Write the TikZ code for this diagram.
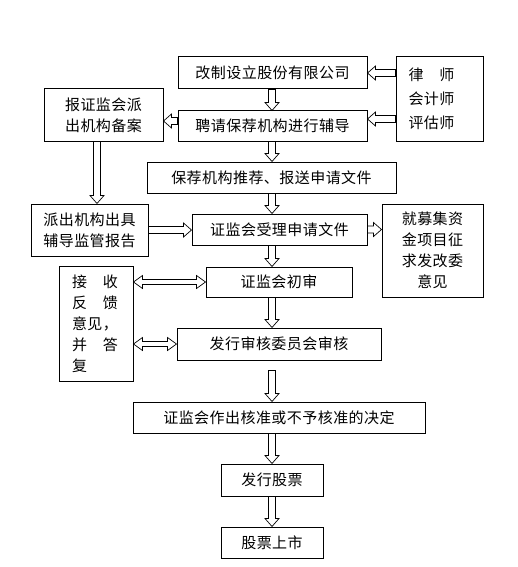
\documentclass[tikz,border=0pt]{standalone}
\usepackage{fontspec}
\setmainfont{Noto Sans CJK SC}[LetterSpace=3]
\usetikzlibrary{calc}
\tikzset{
  box/.style={draw, line width=1pt, rectangle, inner sep=0pt,
    font=\fontsize{15pt}{21pt}\selectfont},
  harr/.style={line width=0.7pt},
  darrow/.style={harr, to path={let \p1=(\tikztostart), \p2=(\tikztotarget) in
    (\x1-3.5pt,\y1) -- (\x1-3.5pt,\y2+8pt) -- (\x1-7pt,\y2+8pt) -- (\x1,\y2)
    -- (\x1+7pt,\y2+8pt) -- (\x1+3.5pt,\y2+8pt) -- (\x1+3.5pt,\y1) -- cycle}},
  rarrow/.style={harr, to path={let \p1=(\tikztostart), \p2=(\tikztotarget) in
    (\x1,\y1+3.5pt) -- (\x2-8pt,\y1+3.5pt) -- (\x2-8pt,\y1+7pt) -- (\x2,\y1)
    -- (\x2-8pt,\y1-7pt) -- (\x2-8pt,\y1-3.5pt) -- (\x1,\y1-3.5pt) -- cycle}},
  larrow/.style={harr, to path={let \p1=(\tikztostart), \p2=(\tikztotarget) in
    (\x1,\y1+3.5pt) -- (\x2+8pt,\y1+3.5pt) -- (\x2+8pt,\y1+7pt) -- (\x2,\y1)
    -- (\x2+8pt,\y1-7pt) -- (\x2+8pt,\y1-3.5pt) -- (\x1,\y1-3.5pt) -- cycle}},
  lrarrow/.style={harr, to path={let \p1=(\tikztostart), \p2=(\tikztotarget) in
    (\x1,\y1) -- (\x1+9pt,\y1+6.5pt) -- (\x1+9pt,\y1+2.5pt) -- (\x2-9pt,\y1+2.5pt)
    -- (\x2-9pt,\y1+6.5pt) -- (\x2,\y1) -- (\x2-9pt,\y1-6.5pt) -- (\x2-9pt,\y1-2.5pt)
    -- (\x1+9pt,\y1-2.5pt) -- (\x1+9pt,\y1-6.5pt) -- cycle}},
}
\begin{document}
\begin{tikzpicture}[x=1pt,y=-1pt]
\useasboundingbox[fill=white] (0,0) rectangle (517,567);

\node[box, minimum width=189pt, minimum height=32pt] (b1) at (272.5,73) {改制设立股份有限公司\hspace{6pt}};
\node[box, minimum width=189pt, minimum height=30pt] (b2) at (272.5,126) {聘请保荐机构进行辅导};
\node[box, minimum width=87pt, minimum height=84pt, align=left, text width=62pt,
  font=\fontsize{15pt}{24pt}\selectfont] (law) at (439.5,99) {律　师\\会计师\\评估师};
\node[box, minimum width=119pt, minimum height=52pt, align=center] (rep) at (103.5,115) {报证监会派\\出机构备案};
\node[box, minimum width=249pt, minimum height=31pt] (b3) at (271.5,177.5) {保荐机构推荐、报送申请文件};
\node[box, minimum width=117pt, minimum height=52pt, align=center] (sup) at (89.5,230) {派出机构出具\\辅导监管报告};
\node[box, minimum width=175pt, minimum height=31pt] (b4) at (279.5,229.5) {证监会受理申请文件\hspace{5pt}};
\node[box, minimum width=101pt, minimum height=93pt, align=center] (fund) at (432.5,250.5) {就募集资\\金项目征\\求发改委\\意见};
\node[box, minimum width=74pt, minimum height=115pt, align=left, text width=48pt] (fb) at (96,323.5) {接　收\\反　馈\\意见，\\并　答\\复};
\node[box, minimum width=146pt, minimum height=30pt] (b5) at (279,282) {证监会初审};
\node[box, minimum width=204pt, minimum height=32pt] (b6) at (279,344) {发行审核委员会审核};
\node[box, minimum width=292pt, minimum height=31pt] (b7) at (279,417.5) {证监会作出核准或不予核准的决定\hspace{24pt}};
\node[box, minimum width=102pt, minimum height=32pt] (b8) at (272,480) {发行股票\hspace{13pt}};
\node[box, minimum width=102pt, minimum height=31pt] (b9) at (272,542.5) {股票上市\hspace{16pt}};

\coordinate (col) at (272,0);
\coordinate (lcol) at (97,0);
\coordinate (y119) at (0,119);
\coordinate (y121) at (0,121);
\coordinate (s67) at ($(b6.south -| col)+(0,10)$);

\draw[darrow] (b1.south -| col) to (b2.north -| col);
\draw[darrow] (b2.south -| col) to (b3.north -| col);
\draw[darrow] (b3.south -| col) to (b4.north -| col);
\draw[darrow] (b4.south -| col) to (b5.north -| col);
\draw[darrow] (b5.south -| col) to (b6.north -| col);
\draw[darrow] (s67) to (b7.north -| col);
\draw[darrow] (b7.south -| col) to (b8.north -| col);
\draw[darrow] (b8.south -| col) to (b9.north -| col);
\draw[darrow] (rep.south -| lcol) to (sup.north -| lcol);

\draw[larrow] (law.west |- b1.east) to (b1.east);
\draw[larrow] (law.west |- y119) to (b2.east |- y119);
\draw[larrow] (b2.west |- y121) to (rep.east |- y121);
\draw[rarrow] (sup.east) to (b4.west |- sup.east);
\draw[rarrow] (b4.east) to (fund.west |- b4.east);
\draw[lrarrow] (fb.east |- b5.west) to (b5.west);
\draw[lrarrow] (fb.east |- b6.west) to (b6.west);
\end{tikzpicture}
\end{document}
